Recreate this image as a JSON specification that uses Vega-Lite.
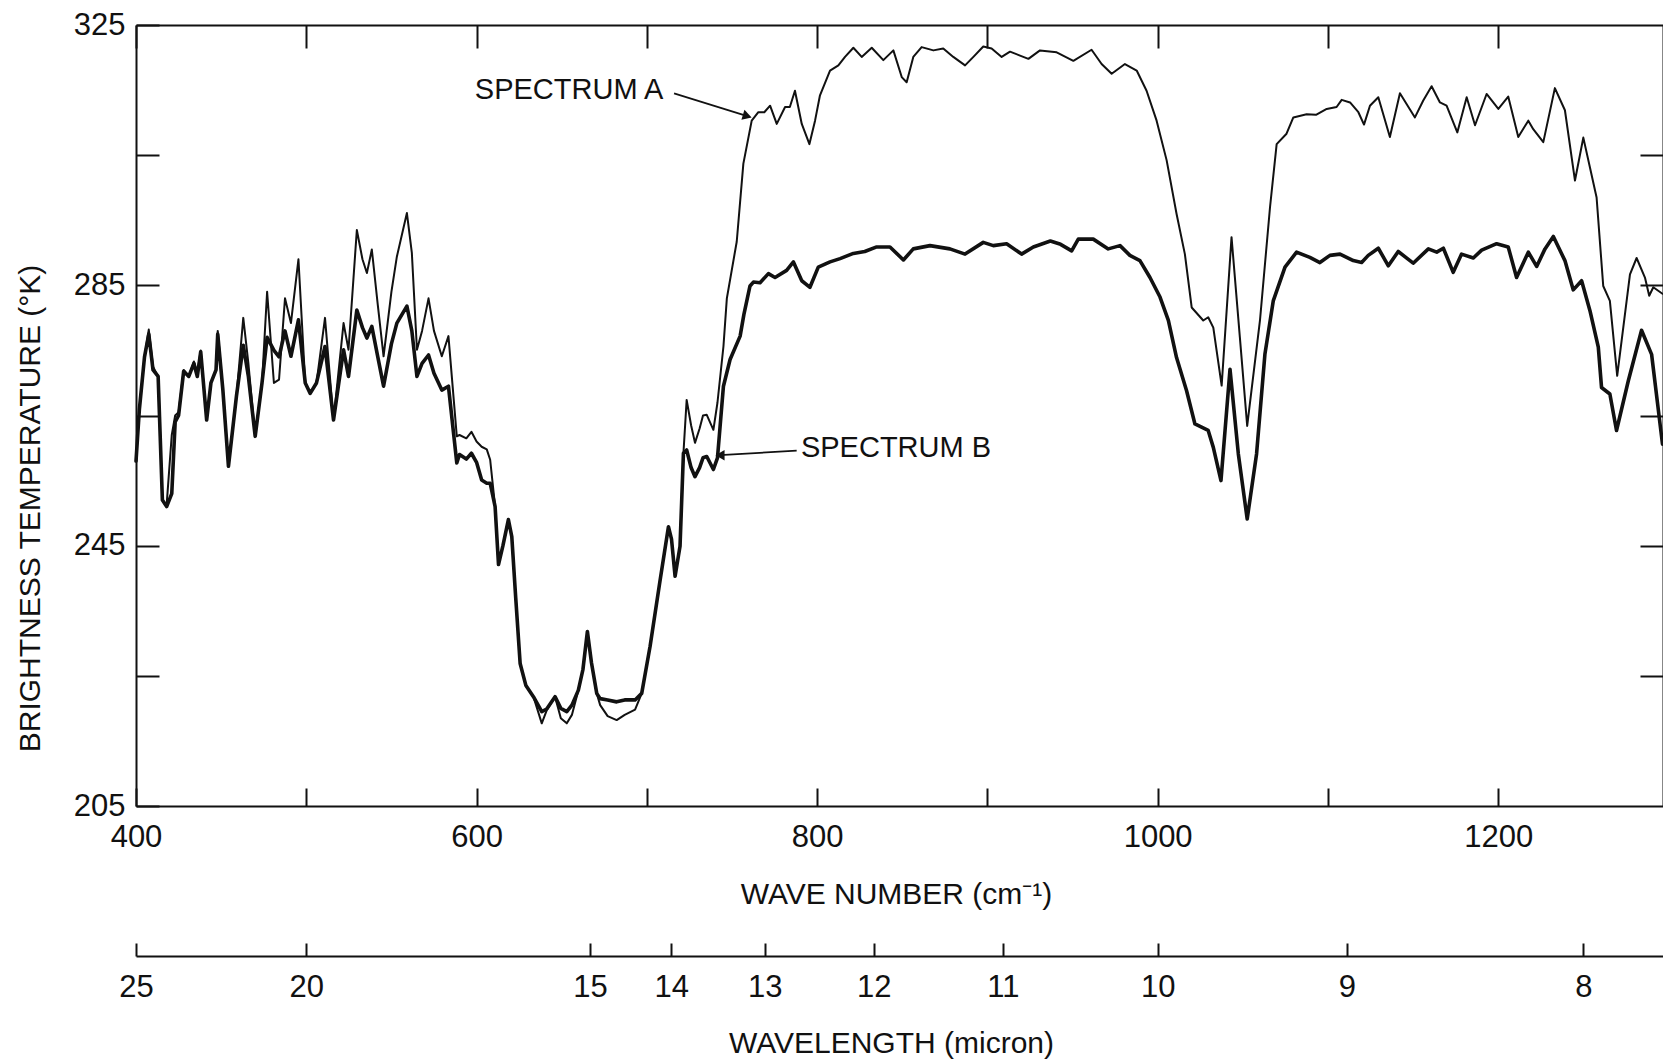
{
  "$schema": "https://vega.github.io/schema/vega-lite/v6.json",
  "width": 1527,
  "height": 781,
  "autosize": {"type": "none"},
  "padding": {"left": 136, "top": 25, "right": 0, "bottom": 256},
  "background": "white",
  "config": {
    "view": {"stroke": null},
    "font": "Liberation Sans",
    "axis": {
      "grid": false,
      "domainColor": "#111",
      "domainWidth": 2,
      "tickColor": "#111",
      "tickWidth": 2,
      "labelColor": "#111",
      "titleColor": "#111",
      "labelFont": "Liberation Sans",
      "titleFont": "Liberation Sans",
      "labelFontSize": 31,
      "titleFontSize": 30,
      "titleFontWeight": "normal",
      "labelFlush": false,
      "labelOverlap": false
    }
  },
  "datasets": {
    "spectra": [
      {"series":"A","wn":400,"temp":258},{"series":"A","wn":402,"temp":266},{"series":"A","wn":405,"temp":274},{"series":"A","wn":407.5,"temp":278.2},{"series":"A","wn":410,"temp":272.5},{"series":"A","wn":413,"temp":271},{"series":"A","wn":415.5,"temp":252},{"series":"A","wn":418,"temp":251.3},{"series":"A","wn":421,"temp":262},{"series":"A","wn":423,"temp":265},{"series":"A","wn":425,"temp":265.5},{"series":"A","wn":428,"temp":272},{"series":"A","wn":431,"temp":271},{"series":"A","wn":434,"temp":273.3},{"series":"A","wn":436,"temp":271.5},{"series":"A","wn":438,"temp":275},{"series":"A","wn":441.5,"temp":264.3},{"series":"A","wn":444,"temp":270},{"series":"A","wn":447,"temp":272},{"series":"A","wn":448,"temp":278},{"series":"A","wn":451,"temp":269},{"series":"A","wn":454.3,"temp":257.2},{"series":"A","wn":459,"temp":268},{"series":"A","wn":463,"temp":280},{"series":"A","wn":466,"temp":273},{"series":"A","wn":470,"temp":261.8},{"series":"A","wn":474,"temp":270},{"series":"A","wn":477,"temp":284},{"series":"A","wn":481,"temp":270},{"series":"A","wn":484,"temp":270.5},{"series":"A","wn":487.5,"temp":283},{"series":"A","wn":491,"temp":279.2},{"series":"A","wn":495.4,"temp":289},{"series":"A","wn":499.4,"temp":270},{"series":"A","wn":502.3,"temp":268.4},{"series":"A","wn":506,"temp":270},{"series":"A","wn":511,"temp":280},{"series":"A","wn":516,"temp":264.3},{"series":"A","wn":521.9,"temp":279.2},{"series":"A","wn":524.8,"temp":275.1},{"series":"A","wn":529.7,"temp":293.5},{"series":"A","wn":533,"temp":289},{"series":"A","wn":535.6,"temp":286.9},{"series":"A","wn":538.5,"temp":290.5},{"series":"A","wn":542,"temp":282},{"series":"A","wn":545.4,"temp":274.1},{"series":"A","wn":550,"temp":284},{"series":"A","wn":553.2,"temp":289.4},{"series":"A","wn":559.1,"temp":296.1},{"series":"A","wn":562,"temp":290},{"series":"A","wn":565,"temp":275.1},{"series":"A","wn":568,"temp":278},{"series":"A","wn":571.8,"temp":283},{"series":"A","wn":575,"temp":278},{"series":"A","wn":579.6,"temp":274.1},{"series":"A","wn":583.5,"temp":277.2},{"series":"A","wn":588.4,"temp":261.8},{"series":"A","wn":590,"temp":262},{"series":"A","wn":594,"temp":261.5},{"series":"A","wn":597,"temp":262.5},{"series":"A","wn":600,"temp":261},{"series":"A","wn":603,"temp":260.2},{"series":"A","wn":606,"temp":259.8},{"series":"A","wn":608,"temp":258.2},{"series":"A","wn":610.9,"temp":251},{"series":"A","wn":612.9,"temp":242.1},{"series":"A","wn":615.5,"temp":245},{"series":"A","wn":618.7,"temp":249},{"series":"A","wn":620.7,"temp":246.4},{"series":"A","wn":623,"temp":237},{"series":"A","wn":625.6,"temp":226.9},{"series":"A","wn":629,"temp":223.5},{"series":"A","wn":633.4,"temp":221.8},{"series":"A","wn":638.3,"temp":217.7},{"series":"A","wn":641.2,"temp":219.7},{"series":"A","wn":646.1,"temp":221.8},{"series":"A","wn":649.5,"temp":218.5},{"series":"A","wn":653,"temp":217.7},{"series":"A","wn":656,"temp":219},{"series":"A","wn":659.8,"temp":222.8},{"series":"A","wn":662.5,"temp":226},{"series":"A","wn":665.1,"temp":231.8},{"series":"A","wn":667.5,"temp":227},{"series":"A","wn":670.6,"temp":222.3},{"series":"A","wn":672.6,"temp":220.5},{"series":"A","wn":677,"temp":218.8},{"series":"A","wn":682.3,"temp":218.2},{"series":"A","wn":687,"temp":219},{"series":"A","wn":693.1,"temp":219.8},{"series":"A","wn":697,"temp":222.3},{"series":"A","wn":701.9,"temp":229.5},{"series":"A","wn":707.8,"temp":239.7},{"series":"A","wn":712.7,"temp":247.9},{"series":"A","wn":714.5,"temp":246},{"series":"A","wn":716.6,"temp":240.3},{"series":"A","wn":719.5,"temp":244.9},{"series":"A","wn":721.5,"temp":259.2},{"series":"A","wn":723.4,"temp":267.4},{"series":"A","wn":726,"temp":263.5},{"series":"A","wn":728.3,"temp":260.8},{"series":"A","wn":731,"temp":263},{"series":"A","wn":733,"temp":265},{"series":"A","wn":735.2,"temp":265.1},{"series":"A","wn":739.1,"temp":262.8},{"series":"A","wn":741.5,"temp":267},{"series":"A","wn":745,"temp":275.6},{"series":"A","wn":747,"temp":283},{"series":"A","wn":752.8,"temp":291.7},{"series":"A","wn":756.7,"temp":303.7},{"series":"A","wn":761.6,"temp":310.3},{"series":"A","wn":765.5,"temp":311.6},{"series":"A","wn":769,"temp":311.6},{"series":"A","wn":772.4,"temp":312.6},{"series":"A","wn":776.3,"temp":309.8},{"series":"A","wn":781.2,"temp":312.4},{"series":"A","wn":784,"temp":312.4},{"series":"A","wn":787,"temp":314.9},{"series":"A","wn":791,"temp":309.8},{"series":"A","wn":795.5,"temp":306.7},{"series":"A","wn":798.8,"temp":310.3},{"series":"A","wn":801.7,"temp":314.2},{"series":"A","wn":807.6,"temp":318},{"series":"A","wn":812.5,"temp":318.8},{"series":"A","wn":816.4,"temp":320.1},{"series":"A","wn":821.3,"temp":321.5},{"series":"A","wn":826.2,"temp":320.1},{"series":"A","wn":832.1,"temp":321.5},{"series":"A","wn":838.9,"temp":319.6},{"series":"A","wn":844.8,"temp":321.1},{"series":"A","wn":849.7,"temp":317},{"series":"A","wn":852.6,"temp":316.2},{"series":"A","wn":856.5,"temp":320.1},{"series":"A","wn":861.4,"temp":321.6},{"series":"A","wn":868.3,"temp":321.1},{"series":"A","wn":874.1,"temp":321.4},{"series":"A","wn":880,"temp":320.1},{"series":"A","wn":886.9,"temp":318.8},{"series":"A","wn":891.8,"temp":320.1},{"series":"A","wn":897.6,"temp":321.7},{"series":"A","wn":902.5,"temp":321.4},{"series":"A","wn":908.4,"temp":320.1},{"series":"A","wn":913.3,"temp":320.9},{"series":"A","wn":919.2,"temp":320.3},{"series":"A","wn":924.1,"temp":319.8},{"series":"A","wn":930.9,"temp":321.1},{"series":"A","wn":940.7,"temp":320.8},{"series":"A","wn":950.5,"temp":319.5},{"series":"A","wn":961.2,"temp":321.2},{"series":"A","wn":967.1,"temp":319},{"series":"A","wn":973,"temp":317.5},{"series":"A","wn":980.8,"temp":319},{"series":"A","wn":987.7,"temp":318},{"series":"A","wn":993.5,"temp":314.9},{"series":"A","wn":999.4,"temp":310.3},{"series":"A","wn":1005.3,"temp":304.2},{"series":"A","wn":1011.1,"temp":296},{"series":"A","wn":1016,"temp":289.8},{"series":"A","wn":1020,"temp":281.6},{"series":"A","wn":1026.8,"temp":279.6},{"series":"A","wn":1029.7,"temp":280.1},{"series":"A","wn":1032.7,"temp":278.5},{"series":"A","wn":1037.6,"temp":269.6},{"series":"A","wn":1043.4,"temp":292.4},{"series":"A","wn":1048.3,"temp":277},{"series":"A","wn":1052.6,"temp":263.4},{"series":"A","wn":1060.1,"temp":279.6},{"series":"A","wn":1066,"temp":297},{"series":"A","wn":1069.9,"temp":306.7},{"series":"A","wn":1075.7,"temp":308.3},{"series":"A","wn":1079.7,"temp":310.8},{"series":"A","wn":1087.5,"temp":311.3},{"series":"A","wn":1093,"temp":311.2},{"series":"A","wn":1099.3,"temp":312.1},{"series":"A","wn":1105.1,"temp":312.4},{"series":"A","wn":1108.1,"temp":313.5},{"series":"A","wn":1113,"temp":313.1},{"series":"A","wn":1117.9,"temp":311.6},{"series":"A","wn":1121.2,"temp":309.7},{"series":"A","wn":1124.7,"temp":312.6},{"series":"A","wn":1129.6,"temp":313.9},{"series":"A","wn":1136.4,"temp":307.8},{"series":"A","wn":1142.3,"temp":314.5},{"series":"A","wn":1151.1,"temp":310.8},{"series":"A","wn":1156,"temp":313.4},{"series":"A","wn":1160.9,"temp":315.6},{"series":"A","wn":1165.8,"temp":313.1},{"series":"A","wn":1169.7,"temp":312.6},{"series":"A","wn":1176,"temp":308.5},{"series":"A","wn":1181.5,"temp":313.9},{"series":"A","wn":1186.4,"temp":309.6},{"series":"A","wn":1193.2,"temp":314.4},{"series":"A","wn":1200.1,"temp":312.1},{"series":"A","wn":1205.9,"temp":314},{"series":"A","wn":1211.8,"temp":307.8},{"series":"A","wn":1217.7,"temp":310.3},{"series":"A","wn":1220.6,"temp":309},{"series":"A","wn":1226.5,"temp":307},{"series":"A","wn":1233.3,"temp":315.3},{"series":"A","wn":1239.2,"temp":311.9},{"series":"A","wn":1245.1,"temp":301.1},{"series":"A","wn":1250,"temp":307.7},{"series":"A","wn":1253.9,"temp":303.1},{"series":"A","wn":1257.8,"temp":298.5},{"series":"A","wn":1261.7,"temp":284.9},{"series":"A","wn":1265.6,"temp":282.6},{"series":"A","wn":1269.9,"temp":271.1},{"series":"A","wn":1277.4,"temp":286.7},{"series":"A","wn":1281.3,"temp":289.2},{"series":"A","wn":1286.2,"temp":286.2},{"series":"A","wn":1288.7,"temp":283.4},{"series":"A","wn":1291.1,"temp":284.7},{"series":"A","wn":1296.5,"temp":283.7},
      {"series":"B","wn":400,"temp":258},{"series":"B","wn":402,"temp":266},{"series":"B","wn":405,"temp":274},{"series":"B","wn":407.5,"temp":277.5},{"series":"B","wn":410,"temp":272},{"series":"B","wn":413,"temp":271},{"series":"B","wn":415.5,"temp":252},{"series":"B","wn":418,"temp":251},{"series":"B","wn":421,"temp":253},{"series":"B","wn":423,"temp":264},{"series":"B","wn":425,"temp":265},{"series":"B","wn":428,"temp":271.8},{"series":"B","wn":431,"temp":271},{"series":"B","wn":434,"temp":273},{"series":"B","wn":436,"temp":271},{"series":"B","wn":438,"temp":274.8},{"series":"B","wn":441.5,"temp":264.3},{"series":"B","wn":444,"temp":270},{"series":"B","wn":447,"temp":272},{"series":"B","wn":448,"temp":277.5},{"series":"B","wn":451,"temp":269},{"series":"B","wn":454.3,"temp":257.2},{"series":"B","wn":459,"temp":268},{"series":"B","wn":463,"temp":275.8},{"series":"B","wn":466,"temp":271},{"series":"B","wn":470,"temp":261.8},{"series":"B","wn":474,"temp":270},{"series":"B","wn":477,"temp":277},{"series":"B","wn":481,"temp":275},{"series":"B","wn":484,"temp":274},{"series":"B","wn":487.5,"temp":278},{"series":"B","wn":491,"temp":274.1},{"series":"B","wn":495.4,"temp":279.7},{"series":"B","wn":499.4,"temp":270},{"series":"B","wn":502.3,"temp":268.4},{"series":"B","wn":506,"temp":270},{"series":"B","wn":511,"temp":275.6},{"series":"B","wn":516,"temp":264.3},{"series":"B","wn":521.9,"temp":275.1},{"series":"B","wn":524.8,"temp":271},{"series":"B","wn":529.7,"temp":281.2},{"series":"B","wn":533,"temp":278.5},{"series":"B","wn":535.6,"temp":276.9},{"series":"B","wn":538.5,"temp":278.7},{"series":"B","wn":542,"temp":274},{"series":"B","wn":545.4,"temp":269.5},{"series":"B","wn":550,"temp":276},{"series":"B","wn":553.2,"temp":279.2},{"series":"B","wn":559.1,"temp":281.8},{"series":"B","wn":562,"temp":278},{"series":"B","wn":565,"temp":271},{"series":"B","wn":568,"temp":273},{"series":"B","wn":571.8,"temp":274.3},{"series":"B","wn":575,"temp":271.5},{"series":"B","wn":579.6,"temp":268.9},{"series":"B","wn":583.5,"temp":269.5},{"series":"B","wn":588.4,"temp":257.7},{"series":"B","wn":590,"temp":259},{"series":"B","wn":594,"temp":258.3},{"series":"B","wn":597,"temp":259.2},{"series":"B","wn":600,"temp":257.8},{"series":"B","wn":603,"temp":255.1},{"series":"B","wn":606,"temp":254.6},{"series":"B","wn":608,"temp":254.6},{"series":"B","wn":610.9,"temp":251},{"series":"B","wn":612.9,"temp":242.1},{"series":"B","wn":615.5,"temp":245},{"series":"B","wn":618.7,"temp":249},{"series":"B","wn":620.7,"temp":246.4},{"series":"B","wn":623,"temp":237},{"series":"B","wn":625.6,"temp":226.9},{"series":"B","wn":629,"temp":223.5},{"series":"B","wn":633.4,"temp":221.8},{"series":"B","wn":638.3,"temp":219.5},{"series":"B","wn":641.2,"temp":219.9},{"series":"B","wn":646.1,"temp":221.8},{"series":"B","wn":649.5,"temp":220},{"series":"B","wn":653,"temp":219.5},{"series":"B","wn":656,"temp":220.5},{"series":"B","wn":659.8,"temp":222.8},{"series":"B","wn":662.5,"temp":226},{"series":"B","wn":665.1,"temp":231.8},{"series":"B","wn":667.5,"temp":227},{"series":"B","wn":670.6,"temp":222.3},{"series":"B","wn":672.6,"temp":221.5},{"series":"B","wn":677,"temp":221.3},{"series":"B","wn":682.3,"temp":221},{"series":"B","wn":687,"temp":221.3},{"series":"B","wn":693.1,"temp":221.3},{"series":"B","wn":697,"temp":222.3},{"series":"B","wn":701.9,"temp":229.5},{"series":"B","wn":707.8,"temp":239.7},{"series":"B","wn":712.7,"temp":247.9},{"series":"B","wn":714.5,"temp":246},{"series":"B","wn":716.6,"temp":240.3},{"series":"B","wn":719.5,"temp":244.9},{"series":"B","wn":721.5,"temp":259.2},{"series":"B","wn":723.4,"temp":259.7},{"series":"B","wn":726,"temp":257},{"series":"B","wn":728.3,"temp":255.6},{"series":"B","wn":731,"temp":257},{"series":"B","wn":733,"temp":258.5},{"series":"B","wn":735.2,"temp":258.7},{"series":"B","wn":739.1,"temp":256.7},{"series":"B","wn":741.5,"temp":258.5},{"series":"B","wn":745,"temp":269.5},{"series":"B","wn":748.9,"temp":273.6},{"series":"B","wn":754.8,"temp":277.2},{"series":"B","wn":757,"temp":280.5},{"series":"B","wn":760.6,"temp":284.9},{"series":"B","wn":762.6,"temp":285.5},{"series":"B","wn":766.5,"temp":285.4},{"series":"B","wn":771.4,"temp":286.8},{"series":"B","wn":775.3,"temp":286.2},{"series":"B","wn":782.1,"temp":287.3},{"series":"B","wn":786.1,"temp":288.6},{"series":"B","wn":791,"temp":285.7},{"series":"B","wn":795.8,"temp":284.7},{"series":"B","wn":800.7,"temp":287.8},{"series":"B","wn":807.6,"temp":288.6},{"series":"B","wn":813.5,"temp":289.1},{"series":"B","wn":821.3,"temp":289.9},{"series":"B","wn":828,"temp":290.2},{"series":"B","wn":835,"temp":290.9},{"series":"B","wn":842.8,"temp":290.9},{"series":"B","wn":850.7,"temp":288.9},{"series":"B","wn":856.5,"temp":290.6},{"series":"B","wn":866.3,"temp":291.1},{"series":"B","wn":878,"temp":290.6},{"series":"B","wn":886.9,"temp":289.8},{"series":"B","wn":897.6,"temp":291.6},{"series":"B","wn":903.5,"temp":291.1},{"series":"B","wn":911.3,"temp":291.4},{"series":"B","wn":920.1,"temp":289.8},{"series":"B","wn":927,"temp":290.9},{"series":"B","wn":937,"temp":291.8},{"series":"B","wn":943,"temp":291.3},{"series":"B","wn":949.5,"temp":290.3},{"series":"B","wn":953.4,"temp":292.1},{"series":"B","wn":962.2,"temp":292.1},{"series":"B","wn":971,"temp":290.6},{"series":"B","wn":977.9,"temp":291.1},{"series":"B","wn":983.7,"temp":289.6},{"series":"B","wn":989.6,"temp":288.8},{"series":"B","wn":995.5,"temp":286.2},{"series":"B","wn":1001.4,"temp":283.2},{"series":"B","wn":1006.3,"temp":279.6},{"series":"B","wn":1011.1,"temp":273.9},{"series":"B","wn":1017,"temp":268.8},{"series":"B","wn":1021.9,"temp":263.7},{"series":"B","wn":1029.7,"temp":262.7},{"series":"B","wn":1032.7,"temp":260.1},{"series":"B","wn":1037.2,"temp":255},{"series":"B","wn":1042.5,"temp":272.1},{"series":"B","wn":1047.4,"temp":259.1},{"series":"B","wn":1052.6,"temp":249.1},{"series":"B","wn":1058.1,"temp":259.1},{"series":"B","wn":1063,"temp":274.4},{"series":"B","wn":1067.9,"temp":282.6},{"series":"B","wn":1074.8,"temp":287.8},{"series":"B","wn":1081.6,"temp":290.1},{"series":"B","wn":1089.4,"temp":289.3},{"series":"B","wn":1095.3,"temp":288.5},{"series":"B","wn":1101.2,"temp":289.6},{"series":"B","wn":1107.1,"temp":289.8},{"series":"B","wn":1114.9,"temp":288.8},{"series":"B","wn":1119.8,"temp":288.5},{"series":"B","wn":1123.7,"temp":289.6},{"series":"B","wn":1129.6,"temp":290.7},{"series":"B","wn":1135.5,"temp":288},{"series":"B","wn":1141.3,"temp":290.2},{"series":"B","wn":1150.1,"temp":288.4},{"series":"B","wn":1159,"temp":290.6},{"series":"B","wn":1163.9,"temp":290.1},{"series":"B","wn":1167.8,"temp":290.7},{"series":"B","wn":1173.6,"temp":287},{"series":"B","wn":1178.5,"temp":289.8},{"series":"B","wn":1185.4,"temp":289.2},{"series":"B","wn":1190.3,"temp":290.4},{"series":"B","wn":1199.1,"temp":291.4},{"series":"B","wn":1205.9,"temp":290.9},{"series":"B","wn":1210.8,"temp":286.2},{"series":"B","wn":1217.7,"temp":290.1},{"series":"B","wn":1222.6,"temp":287.9},{"series":"B","wn":1227.5,"temp":290.6},{"series":"B","wn":1232.4,"temp":292.5},{"series":"B","wn":1239.2,"temp":288.8},{"series":"B","wn":1244.1,"temp":284.3},{"series":"B","wn":1249,"temp":285.7},{"series":"B","wn":1253.9,"temp":281.1},{"series":"B","wn":1258.8,"temp":275.5},{"series":"B","wn":1260.7,"temp":269.3},{"series":"B","wn":1265.6,"temp":268.3},{"series":"B","wn":1269.5,"temp":262.7},{"series":"B","wn":1276.4,"temp":270.3},{"series":"B","wn":1284.2,"temp":278.1},{"series":"B","wn":1290.1,"temp":274.4},{"series":"B","wn":1296.5,"temp":260.6}
    ],
    "labels": [
      {"label": "SPECTRUM A", "wn": 599, "temp": 315},
      {"label": "SPECTRUM B", "wn": 790.5, "temp": 260}
    ],
    "arrows": [
      {"label": "SPECTRUM A", "wn": 716, "temp": 314.5, "wn2": 759, "temp2": 311},
      {"label": "SPECTRUM B", "wn": 788, "temp": 259.6, "wn2": 743, "temp2": 258.9}
    ]
  },
  "resolve": {"scale": {"x": "independent", "y": "independent"}},
  "layer": [
    {
      "data": {"name": "spectra"},
      "mark": {"type": "line", "color": "#111", "strokeJoin": "round", "strokeCap": "round"},
      "encoding": {
        "x": {
          "field": "wn", "type": "quantitative",
          "scale": {"domain": [400, 1296.8], "nice": false, "zero": false},
          "axis": {
            "orient": "bottom",
            "values": [400, 500, 600, 700, 800, 900, 1000, 1100, 1200],
            "format": "d",
            "labelExpr": "datum.value % 200 == 0 ? datum.label : ''",
            "tickSize": -18,
            "labelPadding": 34,
            "title": "WAVE NUMBER (cm⁻¹)",
            "titleX": 760,
            "titleY": 88,
            "titleBaseline": "middle"
          }
        },
        "y": {
          "field": "temp", "type": "quantitative",
          "scale": {"domain": [205, 325], "nice": false, "zero": false},
          "axis": {
            "orient": "left",
            "values": [205, 225, 245, 265, 285, 305, 325],
            "labelExpr": "datum.value % 40 == 5 ? datum.label : ''",
            "tickSize": -23,
            "labelPadding": 34,
            "title": "BRIGHTNESS TEMPERATURE (°K)",
            "titleX": -106,
            "titleY": 483,
            "titleBaseline": "middle",
            "titleAlign": "center"
          }
        },
        "detail": {"field": "series", "type": "nominal"},
        "strokeWidth": {"field": "series", "type": "nominal", "scale": {"domain": ["A", "B"], "range": [2, 3.6]}, "legend": null}
      }
    },
    {
      "data": {"name": "labels"},
      "mark": {"type": "text", "align": "left", "baseline": "middle", "fontSize": 29, "font": "Liberation Sans", "color": "#111"},
      "encoding": {
        "text": {"field": "label"},
        "x": {
          "field": "wn", "type": "quantitative",
          "scale": {"domain": [400, 1296.8], "nice": false, "zero": false},
          "axis": {"orient": "top", "values": [400, 500, 600, 700, 800, 900, 1000, 1100, 1200], "labels": false, "tickSize": -23, "title": null}
        },
        "y": {
          "field": "temp", "type": "quantitative",
          "scale": {"domain": [205, 325], "nice": false, "zero": false},
          "axis": {"orient": "right", "values": [225, 245, 265, 285, 305], "labels": false, "tickSize": -23, "title": null}
        }
      }
    },
    {
      "data": {"name": "arrows"},
      "mark": {"type": "rule", "color": "#111", "strokeWidth": 1.8},
      "encoding": {
        "x": {
          "field": "wn", "type": "quantitative",
          "scale": {"domain": [400, 1296.8], "nice": false, "zero": false},
          "axis": {
            "orient": "bottom",
            "offset": 150,
            "values": [400, 500, 666.667, 714.286, 769.231, 833.333, 909.091, 1000, 1111.111, 1250],
            "labelExpr": "'' + round(10000 / datum.value)",
            "tickSize": -13,
            "labelPadding": 29,
            "title": "WAVELENGTH (micron)",
            "titleX": 755,
            "titleY": 87,
            "titleBaseline": "middle"
          }
        },
        "x2": {"field": "wn2"},
        "y": {
          "field": "temp", "type": "quantitative",
          "scale": {"domain": [205, 325], "nice": false, "zero": false},
          "axis": null
        },
        "y2": {"field": "temp2"}
      }
    },
    {
      "data": {"name": "arrows"},
      "mark": {"type": "point", "filled": true, "color": "#111", "size": 110, "opacity": 1},
      "encoding": {
        "x": {
          "field": "wn2", "type": "quantitative",
          "scale": {"domain": [400, 1296.8], "nice": false, "zero": false},
          "axis": null
        },
        "y": {
          "field": "temp2", "type": "quantitative",
          "scale": {"domain": [205, 325], "nice": false, "zero": false},
          "axis": null
        },
        "shape": {"condition": {"test": "datum.label === 'SPECTRUM A'", "value": "triangle-right"}, "value": "triangle-left"},
        "angle": {"condition": {"test": "datum.label === 'SPECTRUM A'", "value": 17}, "value": 0}
      }
    }
  ]
}
